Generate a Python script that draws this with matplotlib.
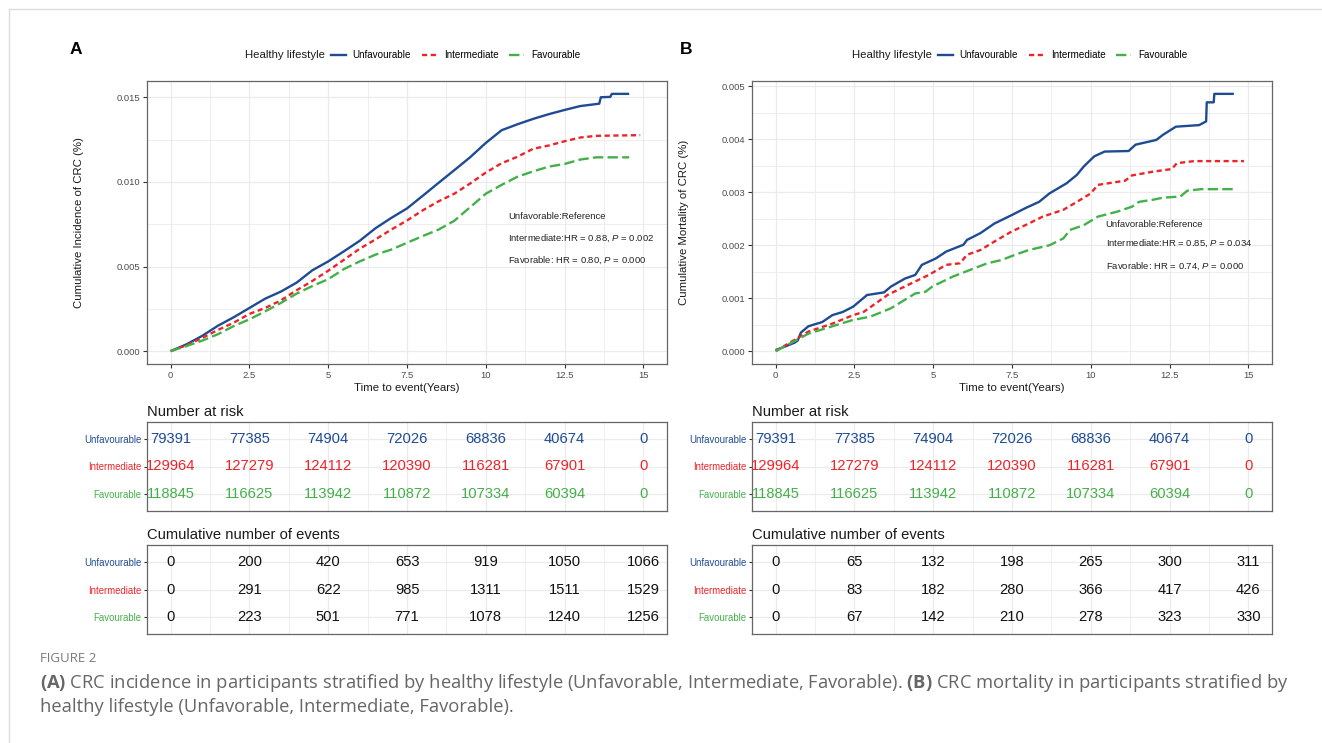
import numpy as np
import matplotlib.pyplot as plt
from matplotlib.ticker import MultipleLocator, FixedLocator
from matplotlib.lines import Line2D

plt.rcParams['font.family'] = ['Liberation Sans', 'DejaVu Sans']
plt.rcParams['mathtext.fontset'] = 'custom'
plt.rcParams['mathtext.rm'] = 'Liberation Sans'
plt.rcParams['mathtext.it'] = 'Liberation Sans:italic'
plt.rcParams['mathtext.bf'] = 'Open Sans:bold'

# ---- data ----
groups = ['Unfavourable', 'Intermediate', 'Favourable']
colors = ['#1F4B93', '#EE2329', '#44B04A']
time_ticks = [0, 2.5, 5, 7.5, 10, 12.5, 15]

# panel A: cumulative incidence
a_unfav_t = [0, 0.5, 1, 1.5, 2, 2.5, 3, 3.5, 4, 4.5, 5, 5.5, 6, 6.5, 7, 7.5, 8, 8.5, 9, 9.5,
             10, 10.5, 11, 11.5, 12, 12.5, 13, 13.6, 13.65, 13.95, 14.0, 14.55]
a_unfav_v = [0, 0.00040, 0.00090, 0.00150, 0.00200, 0.00255, 0.00310, 0.00352, 0.00405, 0.00478,
             0.00530, 0.00590, 0.00652, 0.00726, 0.00787, 0.00843, 0.00918, 0.00994, 0.01069, 0.01145,
             0.01230, 0.01305, 0.01340, 0.01372, 0.01400, 0.01425, 0.01448, 0.01462, 0.01500, 0.01502,
             0.01520, 0.01520]
a_inter_t = [0, 0.5, 1, 1.5, 2, 2.5, 3, 3.5, 4, 4.5, 5, 5.5, 6, 6.5, 7, 7.5, 8, 8.5, 9, 9.5,
             10, 10.5, 11, 11.5, 12, 12.5, 13, 13.5, 14.9]
a_inter_v = [0, 0.00035, 0.00078, 0.00125, 0.00168, 0.00220, 0.00255, 0.00300, 0.00360, 0.00415,
             0.00475, 0.00540, 0.00605, 0.00660, 0.00718, 0.00772, 0.00832, 0.00885, 0.00930, 0.00990,
             0.01055, 0.01110, 0.01148, 0.01195, 0.01215, 0.01240, 0.01262, 0.01272, 0.01276]
a_fav_t = [0, 0.5, 1, 1.5, 2, 2.5, 3, 3.5, 4, 4.5, 5, 5.5, 6, 6.5, 7, 7.5, 8, 8.5, 9, 9.5,
           10, 10.5, 11, 11.5, 12, 12.5, 13, 13.5, 14.55]
a_fav_v = [0, 0.00030, 0.00062, 0.00100, 0.00148, 0.00188, 0.00235, 0.00285, 0.00340, 0.00385,
           0.00425, 0.00485, 0.00530, 0.00570, 0.00600, 0.00640, 0.00680, 0.00718, 0.00770, 0.00850,
           0.00930, 0.00982, 0.01030, 0.01062, 0.01090, 0.01106, 0.01132, 0.01145, 0.01145]

# panel B: cumulative mortality
b_unfav_t = [0, 0.27, 0.6, 0.7, 0.8, 1.04, 1.48, 1.8, 2.13, 2.46, 2.9, 3.44, 3.66, 4.1, 4.43, 4.64,
             5.08, 5.41, 5.96, 6.07, 6.5, 6.94, 7.49, 7.92, 8.36, 8.69, 9.23, 9.56, 9.78, 10.11, 10.44,
             11.2, 11.42, 12.08, 12.3, 12.62, 12.7, 13.44, 13.66, 13.68, 13.9, 13.92, 14.54]
b_unfav_v = [0.00002, 0.00008, 0.00016, 0.00020, 0.00035, 0.00047, 0.00055, 0.00068, 0.00074, 0.00084,
             0.00106, 0.00111, 0.00122, 0.00137, 0.00144, 0.00163, 0.00175, 0.00188, 0.00201, 0.00210,
             0.00223, 0.00241, 0.00257, 0.00270, 0.00282, 0.00298, 0.00317, 0.00333, 0.00349, 0.00368,
             0.00377, 0.00378, 0.00390, 0.00399, 0.00409, 0.00421, 0.00424, 0.00427, 0.00434, 0.00470,
             0.00470, 0.00486, 0.00486]
b_inter_t = [0, 1.04, 1.8, 2.46, 2.79, 3.55, 3.99, 4.86, 5.41, 5.85, 6.07, 6.5, 6.94, 7.49, 8.03, 8.47,
             9.13, 9.56, 10.0, 10.22, 11.09, 11.31, 11.97, 12.57, 12.73, 13.28, 14.86]
b_inter_v = [0, 0.00037, 0.00052, 0.00068, 0.00074, 0.00106, 0.00119, 0.00144, 0.00163, 0.00166,
             0.00182, 0.00191, 0.00207, 0.00226, 0.00241, 0.00254, 0.00267, 0.00282, 0.00298, 0.00314,
             0.00322, 0.00332, 0.00339, 0.00344, 0.00355, 0.00359, 0.00359]
b_fav_t = [0, 1.04, 1.91, 2.46, 3.0, 3.66, 4.43, 4.75, 4.97, 5.63, 6.28, 6.72, 7.16, 7.6, 8.03, 8.47,
           8.69, 9.13, 9.34, 9.78, 10.22, 10.87, 11.31, 11.53, 11.97, 12.3, 12.84, 13.06, 13.5, 14.54]
b_fav_v = [0, 0.00033, 0.00049, 0.00059, 0.00065, 0.00081, 0.00109, 0.00112, 0.00122, 0.00141,
           0.00156, 0.00166, 0.00172, 0.00182, 0.00191, 0.00197, 0.00200, 0.00213, 0.00229, 0.00238,
           0.00254, 0.00264, 0.00273, 0.00282, 0.00286, 0.00290, 0.00292, 0.00303, 0.00306, 0.00306]

# number at risk (same in both panels)
risk_unfav = [79391, 77385, 74904, 72026, 68836, 40674, 0]
risk_inter = [129964, 127279, 124112, 120390, 116281, 67901, 0]
risk_fav = [118845, 116625, 113942, 110872, 107334, 60394, 0]

# cumulative number of events
a_ev_unfav = [0, 200, 420, 653, 919, 1050, 1066]
a_ev_inter = [0, 291, 622, 985, 1311, 1511, 1529]
a_ev_fav = [0, 223, 501, 771, 1078, 1240, 1256]
b_ev_unfav = [0, 65, 132, 198, 265, 300, 311]
b_ev_inter = [0, 83, 182, 280, 366, 417, 426]
b_ev_fav = [0, 67, 142, 210, 278, 323, 330]

a_notes = ['Unfavorable:Reference', 'Intermediate:HR = 0.88, $P$ = 0.002', 'Favorable: HR = 0.80, $P$ = 0.000']
b_notes = ['Unfavorable:Reference', 'Intermediate:HR = 0.85, $P$ = 0.034', 'Favorable: HR = 0.74, $P$ = 0.000']

# ---- figure ----
W, H = 1322, 743
fig = plt.figure(figsize=(W / 100, H / 100), dpi=100)


def px_axes(l, t, r, b):
    return fig.add_axes([l / W, 1 - b / H, (r - l) / W, (b - t) / H])


GRID = '#EBEBEB'
FRAME = '#666666'
TICKTXT = '#4D4D4D'
styles = [dict(ls='-'), dict(ls=(0, (2.2, 1.5))), dict(ls=(0, (4.4, 1.8)))]


def style_axes(ax):
    for s in ax.spines.values():
        s.set_color(FRAME)
        s.set_linewidth(0.9)
    ax.set_xlim(-0.75, 15.75)
    ax.xaxis.set_major_locator(FixedLocator(time_ticks))
    ax.xaxis.set_minor_locator(MultipleLocator(1.25))
    ax.grid(True, which='major', color=GRID, lw=0.9)
    ax.grid(True, which='minor', color=GRID, lw=0.6)
    ax.set_axisbelow(True)


def draw_km(ax, series, ymax, ystep, ylabel, notes, note_x, note_y):
    style_axes(ax)
    for (t, v), c, st in zip(series, colors, styles):
        ax.plot(t, v, color=c, lw=1.7, solid_capstyle='butt', dash_capstyle='butt', **st)
    ax.set_ylim(-0.05 * ymax, 1.05 * ymax)
    ax.yaxis.set_major_locator(MultipleLocator(ystep))
    ax.yaxis.set_minor_locator(MultipleLocator(ystep / 2))
    ax.yaxis.set_major_formatter(lambda v, p: f'{v:.3f}')
    ax.set_xticklabels(['0', '2.5', '5', '7.5', '10', '12.5', '15'])
    ax.tick_params(which='major', length=3, width=0.8, color='#333333', labelsize=6.8,
                   labelcolor=TICKTXT, pad=2)
    ax.tick_params(which='minor', length=0)
    ax.set_ylabel(ylabel, fontsize=8.2, color='#1A1A1A')
    ax.yaxis.set_label_coords(-0.122, 0.5)
    ax.set_xlabel('Time to event(Years)', fontsize=8.2, color='#1A1A1A')
    ax.xaxis.set_label_coords(0.5, -0.066)
    for txt, y in zip(notes, note_y):
        ax.text(note_x, y, txt, fontsize=6.8, color='#222222', va='center', ha='left')


def draw_table(ax, rows, colored, title):
    style_axes(ax)
    ax.set_ylim(3.6, 0.4)
    ax.set_yticks([1, 2, 3])
    ax.set_yticklabels(groups)
    ax.tick_params(axis='x', which='both', length=0, labelbottom=False)
    ax.tick_params(axis='y', which='major', length=2.5, width=0.8, color='#333333',
                   labelsize=6.9, pad=1.5)
    ax.tick_params(axis='y', which='minor', length=0)
    for lab, c in zip(ax.get_yticklabels(), colors):
        lab.set_color(c)
    for i, (vals, c) in enumerate(zip(rows, colors)):
        for x, v in zip(time_ticks, vals):
            ax.text(x, i + 1, str(v), ha='center', va='center', fontsize=10.6,
                    color=c if colored else '#111111')
    ax.text(0, 1.035, title, transform=ax.transAxes, fontsize=10.6, color='#1A1A1A',
            ha='left', va='bottom')


panels = [
    dict(l=147, r=667, letter='A', lx=70, leg_title_x=245, leg_x=331,
         series=[(a_unfav_t, a_unfav_v), (a_inter_t, a_inter_v), (a_fav_t, a_fav_v)],
         ymax=0.0152, ystep=0.005, ylabel='Cumulative Incidence of CRC (%)',
         notes=a_notes, note_x=10.7, note_y=[0.00797, 0.00667, 0.00537],
         events=[a_ev_unfav, a_ev_inter, a_ev_fav]),
    dict(l=752, r=1272, letter='B', lx=680, leg_title_x=852, leg_x=938,
         series=[(b_unfav_t, b_unfav_v), (b_inter_t, b_inter_v), (b_fav_t, b_fav_v)],
         ymax=0.00486, ystep=0.001, ylabel='Cumulative Mortality of CRC (%)',
         notes=b_notes, note_x=10.47, note_y=[0.00240, 0.00203, 0.00161],
         events=[b_ev_unfav, b_ev_inter, b_ev_fav]),
]

for p in panels:
    ax = px_axes(p['l'], 81, p['r'], 364)
    draw_km(ax, p['series'], p['ymax'], p['ystep'], p['ylabel'], p['notes'], p['note_x'], p['note_y'])

    # legend on top
    fig.text(p['leg_title_x'] / W, 1 - 55 / H, 'Healthy lifestyle', fontsize=8.2,
             color='#1A1A1A', ha='left', va='center')
    handles = [Line2D([], [], color=c, lw=1.7, **st) for c, st in zip(colors, styles)]
    fig.legend(handles, groups, loc='center left', bbox_to_anchor=(p['leg_x'] / W, 1 - 55 / H),
               ncol=3, frameon=False, fontsize=7.1, handlelength=1.5, handletextpad=0.7,
               columnspacing=1.1, borderpad=0, borderaxespad=0)

    fig.text(p['lx'] / W, 1 - 50 / H, p['letter'], fontsize=12.5, fontweight='bold',
             ha='left', va='center')

    t1 = px_axes(p['l'], 422, p['r'], 511)
    draw_table(t1, [risk_unfav, risk_inter, risk_fav], True, 'Number at risk')
    t2 = px_axes(p['l'], 545, p['r'], 634)
    draw_table(t2, p['events'], False, 'Cumulative number of events')

# page frame lines
fig.add_artist(Line2D([9 / W, 1], [1 - 9 / H, 1 - 9 / H], color='#DDDDDD', lw=1))
fig.add_artist(Line2D([9 / W, 9 / W], [0, 1 - 9 / H], color='#DDDDDD', lw=1))

# caption
cap = ['Open Sans', 'DejaVu Sans']
fig.text(40 / W, 1 - 659 / H, 'FIGURE 2', fontsize=9.5, color='#7A7A7A', family=cap,
         ha='left', va='center')
fig.text(40 / W, 1 - 683 / H,
         r'$\bf{(A)}$ CRC incidence in participants stratified by healthy lifestyle '
         r'(Unfavorable, Intermediate, Favorable). $\bf{(B)}$ CRC mortality in participants stratified by',
         fontsize=13.2, color='#666666', family=cap, ha='left', va='center')
fig.text(40 / W, 1 - 707 / H, 'healthy lifestyle (Unfavorable, Intermediate, Favorable).',
         fontsize=13.2, color='#666666', family=cap, ha='left', va='center')

fig.savefig('out.png', dpi=100)
